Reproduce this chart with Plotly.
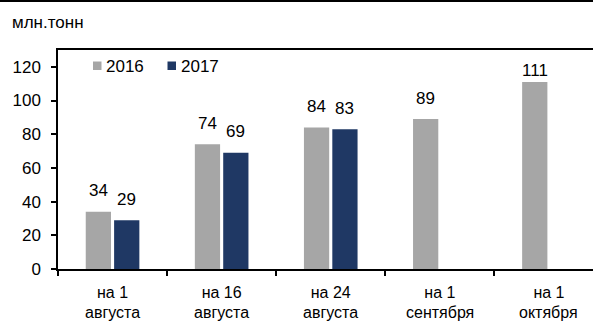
import plotly.graph_objects as go

# ---- data ----
categories = ["на 1 августа", "на 16 августа", "на 24 августа", "на 1 сентября", "на 1 октября"]
cat_line1 = ["на 1", "на 16", "на 24", "на 1", "на 1"]
cat_line2 = ["августа", "августа", "августа", "сентября", "октября"]
series_names = ["2016", "2017"]
values_2016 = [34, 74, 84, 89, 111]
values_2017 = [29, 69, 83, None, None]
y_ticks = [0, 20, 40, 60, 80, 100, 120]
y_max = 130
unit_label = "млн.тонн"

# ---- layout constants ----
W, H = 593, 322
ML, MR, MT, MB = 58, 0, 50, 53
PW, PH = W - ML - MR, H - MT - MB
CAT_PX = 109.1
BARGAP, BARGROUPGAP = 0.48, 0.11
FONT = "Liberation Sans, Arial, sans-serif"
FS = 17
XFS = 16
GRAY = "#A6A6A6"
NAVY = "#1F3864"
colors = [GRAY, NAVY]


def xp(px):
    return (px - ML) / PW


def yp(py):
    return (H - MB - py) / PH


fig = go.Figure()
for name, vals, col in zip(series_names, [values_2016, values_2017], colors):
    fig.add_trace(go.Bar(x=categories, y=vals, name=name, marker_color=col,
                         marker_line_width=0, showlegend=False))

annotations = []
# data labels
offset = (1 - BARGAP) / 4
for s, vals in enumerate([values_2016, values_2017]):
    for i, v in enumerate(vals):
        if v is None:
            continue
        top_px = (y_max - v) * PH / y_max
        shift = min(21, top_px - 20)
        annotations.append(dict(x=i + (-offset if s == 0 else offset), y=v, xref="x", yref="y",
                                text=str(v), showarrow=False, yanchor="middle", yshift=shift,
                                font=dict(family=FONT, size=FS, color="#000")))
# second line of category labels
for i, t in enumerate(cat_line2):
    annotations.append(dict(x=i, y=0, xref="x", yref="paper", text=t, showarrow=False,
                            yanchor="top", yshift=-34, borderpad=0,
                            font=dict(family=FONT, size=XFS, color="#000")))
# custom legend text
leg_text_x = [105, 180]
for name, lx in zip(series_names, leg_text_x):
    annotations.append(dict(x=xp(lx), y=yp(66), xref="paper", yref="paper", text=name,
                            showarrow=False, xanchor="left", yanchor="middle", borderpad=0,
                            font=dict(family=FONT, size=FS, color="#000")))
# unit label
annotations.append(dict(x=xp(11), y=yp(22), xref="paper", yref="paper", text=unit_label,
                        showarrow=False, xanchor="left", yanchor="middle", borderpad=0,
                        font=dict(family=FONT, size=17, color="#000")))

shapes = []
leg_sq_x = [93, 167.5]
for col, sx in zip(colors, leg_sq_x):
    shapes.append(dict(type="rect", xref="paper", yref="paper", x0=xp(sx), x1=xp(sx + 8.5),
                       y0=yp(70), y1=yp(61.5), fillcolor=col, line_width=0))
# top rule of the figure
shapes.append(dict(type="line", xref="paper", yref="paper", x0=xp(0), x1=xp(W), y0=yp(1), y1=yp(1),
                   line=dict(color="#000", width=2)))

span = PW / CAT_PX
fig.update_layout(
    width=W, height=H,
    margin=dict(l=ML, r=MR, t=MT, b=MB, pad=0),
    paper_bgcolor="white", plot_bgcolor="white",
    barmode="group", bargap=BARGAP, bargroupgap=BARGROUPGAP,
    font=dict(family=FONT, size=FS, color="#000"),
    annotations=annotations, shapes=shapes,
    xaxis=dict(type="category", range=[-0.5, -0.5 + span], tickmode="array",
               tickvals=categories, ticktext=cat_line1, tickson="boundaries",
               ticks="outside", ticklen=5, tickwidth=1.5, tickcolor="#000",
               showline=True, linecolor="#000", linewidth=1.5, mirror=True,
               showgrid=False, zeroline=False, ticklabelstandoff=8,
               tickfont=dict(family=FONT, size=XFS, color="#000")),
    yaxis=dict(range=[0, y_max], tickmode="array", tickvals=y_ticks,
               ticks="outside", ticklen=5, tickwidth=1.5, tickcolor="#000",
               showline=True, linecolor="#000", linewidth=1.5,
               showgrid=False, zeroline=False, ticklabelstandoff=7,
               tickfont=dict(family=FONT, size=FS, color="#000")),
    showlegend=False,
)

fig.write_html("out.html")
